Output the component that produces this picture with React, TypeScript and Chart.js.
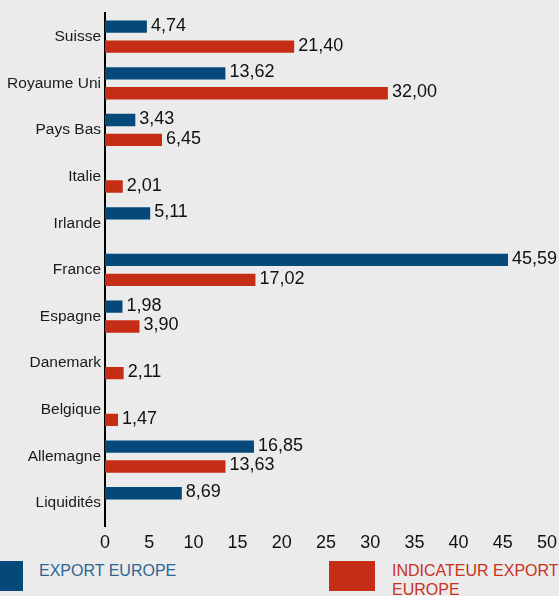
import React, { useEffect, useRef } from "react";
import { Chart, registerables } from "chart.js";

Chart.register(...registerables);

const categories = ["Suisse", "Royaume Uni", "Pays Bas", "Italie", "Irlande", "France", "Espagne", "Danemark", "Belgique", "Allemagne", "Liquidités"];
const exportEurope = [4.74, 13.62, 3.43, null, 5.11, 45.59, 1.98, null, null, 16.85, 8.69];
const indicateurExportEurope = [21.40, 32.00, 6.45, 2.01, null, 17.02, 3.90, 2.11, 1.47, 13.63, null];
const xTicks = [0, 5, 10, 15, 20, 25, 30, 35, 40, 45, 50];

const BLUE = "#04497a";
const RED = "#c52d17";
const FONT = "'Liberation Sans', Arial, sans-serif";

const valueLabels = {
  id: "valueLabels",
  afterDatasetsDraw(chart: any) {
    const ctx = chart.ctx;
    ctx.save();
    ctx.font = `18px ${FONT}`;
    ctx.fillStyle = "#111";
    ctx.textAlign = "left";
    ctx.textBaseline = "middle";
    chart.data.datasets.forEach((ds: any, i: number) => {
      const meta = chart.getDatasetMeta(i);
      meta.data.forEach((bar: any, j: number) => {
        const v = ds.data[j];
        if (v === null || v === undefined) return;
        ctx.fillText(v.toFixed(2).replace(".", ","), bar.x + 4, bar.y - 1);
      });
    });
    ctx.restore();
  },
};

export default function App() {
  const ref = useRef<HTMLCanvasElement>(null);
  useEffect(() => {
    if (!ref.current) return;
    const chart = new Chart(ref.current, {
      type: "bar",
      data: {
        labels: categories,
        datasets: [
          { label: "EXPORT EUROPE", data: exportEurope as any, backgroundColor: BLUE, categoryPercentage: 0.853, barPercentage: 0.62 },
          { label: "INDICATEUR EXPORT EUROPE", data: indicateurExportEurope as any, backgroundColor: RED, categoryPercentage: 0.853, barPercentage: 0.62 },
        ],
      },
      options: {
        indexAxis: "y",
        animation: false,
        responsive: false,
        layout: { padding: { top: 10, right: 12, bottom: 0, left: 0 } },
        plugins: { legend: { display: false }, tooltip: { enabled: false } },
        scales: {
          x: {
            min: 0,
            max: 50,
            afterBuildTicks(axis: any) {
              axis.ticks = xTicks.map((v) => ({ value: v }));
            },
            afterFit(axis: any) {
              axis.height = 29.5;
              axis.paddingLeft = 0;
              axis.paddingRight = 0;
            },
            border: { display: false },
            grid: { display: false, drawTicks: false },
            ticks: { color: "#111", font: { family: FONT, size: 18 }, padding: 6, maxRotation: 0, autoSkip: false },
          },
          y: {
            afterFit(axis: any) {
              axis.width = 105;
            },
            border: { display: true, color: "#000", width: 2 },
            grid: { display: false, drawTicks: false },
            ticks: { color: "#1a1a1a", font: { family: FONT, size: 15.5 }, padding: 4 },
          },
        },
      },
      plugins: [valueLabels],
    });
    return () => chart.destroy();
  }, []);

  return (
    <div style={{ position: "fixed", left: 0, top: 0, width: 559, height: 596, background: "#ebebeb", overflow: "hidden", fontFamily: FONT }}>
      <canvas ref={ref} width={559} height={556} style={{ position: "absolute", left: 0, top: 0, width: 559, height: 556 }} />
      <div style={{ position: "absolute", left: 0, top: 561, width: 23, height: 30, background: BLUE }} />
      <div style={{ position: "absolute", left: 39, top: 561, fontSize: 16, lineHeight: "19px", color: "#2b6695", whiteSpace: "nowrap" }}>EXPORT EUROPE</div>
      <div style={{ position: "absolute", left: 329, top: 561, width: 46, height: 30, background: RED }} />
      <div style={{ position: "absolute", left: 392, top: 561, width: 175, fontSize: 16, lineHeight: "19px", color: "#c8321e" }}>INDICATEUR EXPORT EUROPE</div>
    </div>
  );
}
